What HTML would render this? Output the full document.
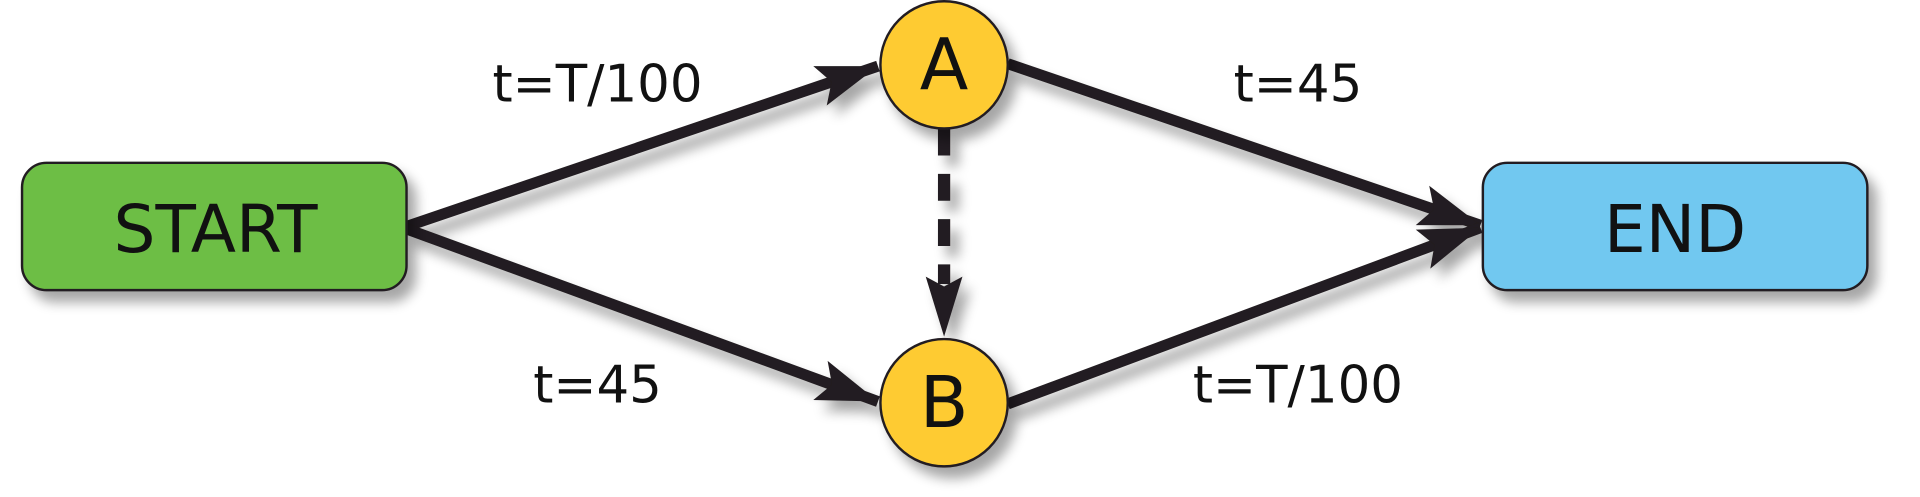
<!DOCTYPE html>
<html><head><meta charset="utf-8"><style>
html,body{margin:0;padding:0;background:#fff;}
svg{display:block;}
text{font-family:"DejaVu Sans","Liberation Sans",sans-serif;fill:#111;}
</style></head><body>
<svg width="1920" height="497" viewBox="0 0 1568 406" preserveAspectRatio="none" xmlns="http://www.w3.org/2000/svg">
<defs>
<filter id="sh" x="-20%" y="-20%" width="150%" height="160%">
<feGaussianBlur in="SourceAlpha" stdDeviation="5"/>
<feOffset dx="7" dy="9" result="o"/>
<feComponentTransfer><feFuncA type="linear" slope="0.35"/></feComponentTransfer>
<feMerge><feMergeNode/><feMergeNode in="SourceGraphic"/></feMerge>
</filter>
<marker id="ar" markerUnits="userSpaceOnUse" viewBox="-52 -20 54 40" markerWidth="54" markerHeight="40" refX="0" refY="0" orient="auto">
<path d="M0,0 L-50,-17 L-40,0 L-50,17 Z" fill="#231f20"/>
</marker>
</defs>
<g filter="url(#sh)" stroke="#231f20" stroke-width="9" fill="none">
<line x1="332" y1="185" x2="717" y2="54" marker-end="url(#ar)"/>
<line x1="823" y1="52" x2="1209" y2="184" marker-end="url(#ar)"/>
<line x1="332" y1="187" x2="717" y2="328" marker-end="url(#ar)"/>
<line x1="823" y1="330" x2="1209" y2="186" marker-end="url(#ar)"/>
<line x1="771" y1="105" x2="771" y2="232" stroke-width="10" stroke-dasharray="22,15"/>
</g>
<g filter="url(#sh)">
<path d="M771,275 L756,226 L771,234 L786,226 Z" fill="#231f20"/>
<rect x="18" y="133" width="314" height="104" rx="20" fill="#6dbe45" stroke="#231f20" stroke-width="2"/>
<rect x="1211" y="133" width="314" height="104" rx="20" fill="#71c8f0" stroke="#231f20" stroke-width="2"/>
<circle cx="771" cy="53" r="52" fill="#fecb33" stroke="#231f20" stroke-width="2"/>
<circle cx="771" cy="329" r="52" fill="#fecb33" stroke="#231f20" stroke-width="2"/>
</g>
<text x="176" y="206" font-size="54" text-anchor="middle">START</text>
<text x="1368" y="206" font-size="54" text-anchor="middle">END</text>
<text x="771" y="73" font-size="58" text-anchor="middle">A</text>
<text x="771" y="349" font-size="58" text-anchor="middle">B</text>
<text x="488" y="83" font-size="42" text-anchor="middle">t=T/100</text>
<text x="1060" y="83" font-size="42" text-anchor="middle">t=45</text>
<text x="488" y="329" font-size="42" text-anchor="middle">t=45</text>
<text x="1060" y="329" font-size="42" text-anchor="middle">t=T/100</text>
</svg>
</body></html>
